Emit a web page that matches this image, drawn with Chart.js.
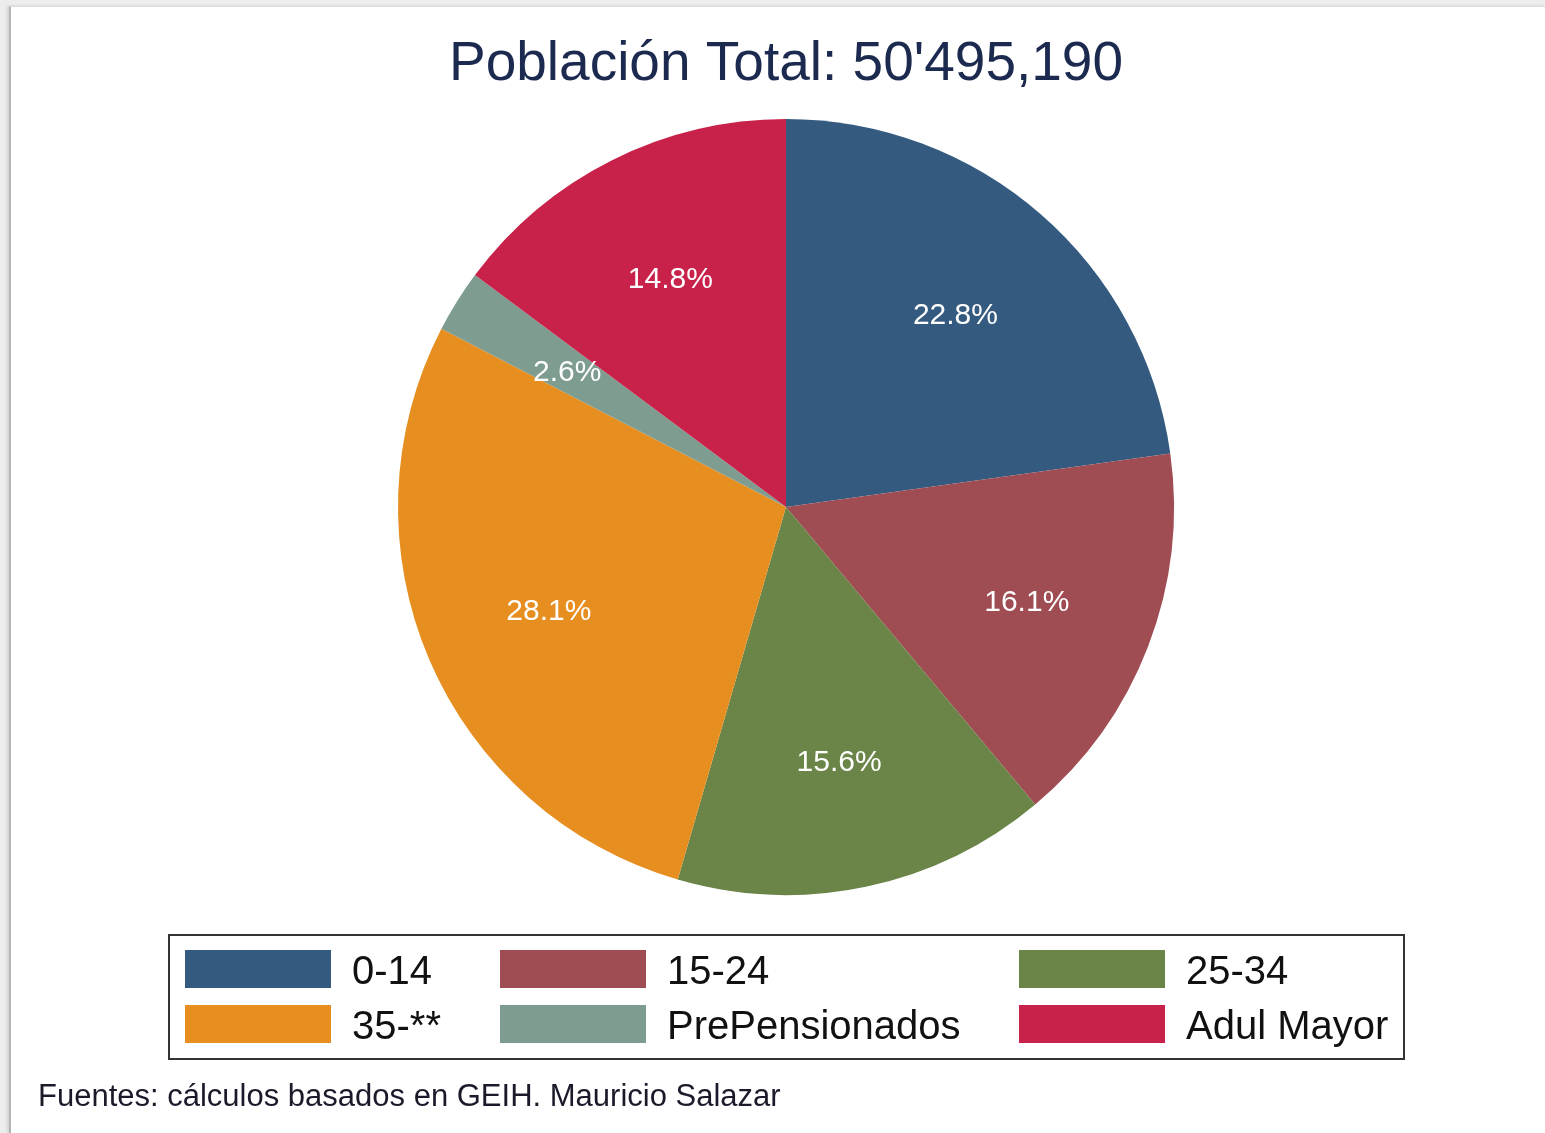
<!DOCTYPE html>
<html>
<head>
<meta charset="utf-8">
<title>Población Total</title>
<script src="https://cdn.jsdelivr.net/npm/chart.js@4"></script>
<style>
  html, body { margin: 0; padding: 0; background: #ededed; }
  .panel {
    position: absolute; left: 9px; top: 6px; right: 0; bottom: 0;
    background: #fff;
    border-left: 2px solid #b5b5b5;
    border-top: 1px solid #dcdcdc;
    box-shadow: -2px 0 3px rgba(0, 0, 0, 0.12);
  }
  #pieChart { position: absolute; left: 0; top: 0; }
</style>
</head>
<body>
<div class="panel"></div>
<canvas id="pieChart" width="1545" height="1133"></canvas>
<script>
const categories = ['0-14', '15-24', '25-34', '35-**', 'PrePensionados', 'Adul Mayor']
const shares = [22.8, 16.1, 15.6, 28.1, 2.6, 14.8]
const colors = ['#345b7f', '#9f4c53', '#6a8547', '#e78e20', '#7f9c90', '#c8214a']
const titleText = "Población Total: 50'495,190"
const noteText = 'Fuentes: cálculos basados en GEIH. Mauricio Salazar'

const fontFamily = '"Liberation Sans", Arial, sans-serif'

// percentage labels inside the slices
const sliceLabels = {
  id: 'sliceLabels',
  afterDatasetsDraw(chart) {
    const ctx = chart.ctx
    const meta = chart.getDatasetMeta(0)
    ctx.save()
    ctx.fillStyle = '#ffffff'
    ctx.font = '30px ' + fontFamily
    ctx.textAlign = 'center'
    ctx.textBaseline = 'middle'
    meta.data.forEach((arc, i) => {
      const p = arc.getProps(['x', 'y', 'startAngle', 'endAngle', 'outerRadius'], true)
      const mid = (p.startAngle + p.endAngle) / 2
      const r = p.outerRadius * 0.665
      ctx.fillText(shares[i].toFixed(1) + '%', p.x + Math.cos(mid) * r, p.y + Math.sin(mid) * r + 3)
    })
    ctx.restore()
  },
}

// title, boxed legend and source note
const frame = {
  id: 'frame',
  afterDraw(chart) {
    const ctx = chart.ctx
    ctx.save()
    ctx.fillStyle = '#1c2a4f'
    ctx.font = '55px ' + fontFamily
    ctx.textAlign = 'center'
    ctx.textBaseline = 'alphabetic'
    ctx.fillText(titleText, 786, 80)

    ctx.strokeStyle = '#333333'
    ctx.lineWidth = 2
    ctx.strokeRect(169, 935, 1235, 124)

    const swatchX = [185, 500, 1019]
    const textX = [352, 667, 1186]
    const rowY = [950, 1005]
    ctx.font = '40px ' + fontFamily
    ctx.textAlign = 'left'
    categories.forEach((name, i) => {
      const col = i % 3
      const row = Math.floor(i / 3)
      ctx.fillStyle = colors[i]
      ctx.fillRect(swatchX[col], rowY[row], 146, 38)
      ctx.fillStyle = '#111111'
      ctx.fillText(name, textX[col], rowY[row] + 34)
    })

    ctx.fillStyle = '#1a1a2a'
    ctx.font = '31px ' + fontFamily
    ctx.fillText(noteText, 38, 1106)
    ctx.restore()
  },
}

const ctx = document.getElementById('pieChart').getContext('2d')
const myChart = new Chart(ctx, {
  type: 'pie',
  data: {
    labels: categories,
    datasets: [
      {
        data: shares,
        backgroundColor: colors,
        borderWidth: 0,
      },
    ],
  },
  options: {
    responsive: false,
    animation: false,
    layout: {
      padding: { left: 398, right: 371, top: 119, bottom: 238 },
    },
    plugins: {
      legend: { display: false },
      title: { display: false },
      tooltip: { enabled: false },
    },
  },
  plugins: [sliceLabels, frame],
})
</script>
</body>
</html>
